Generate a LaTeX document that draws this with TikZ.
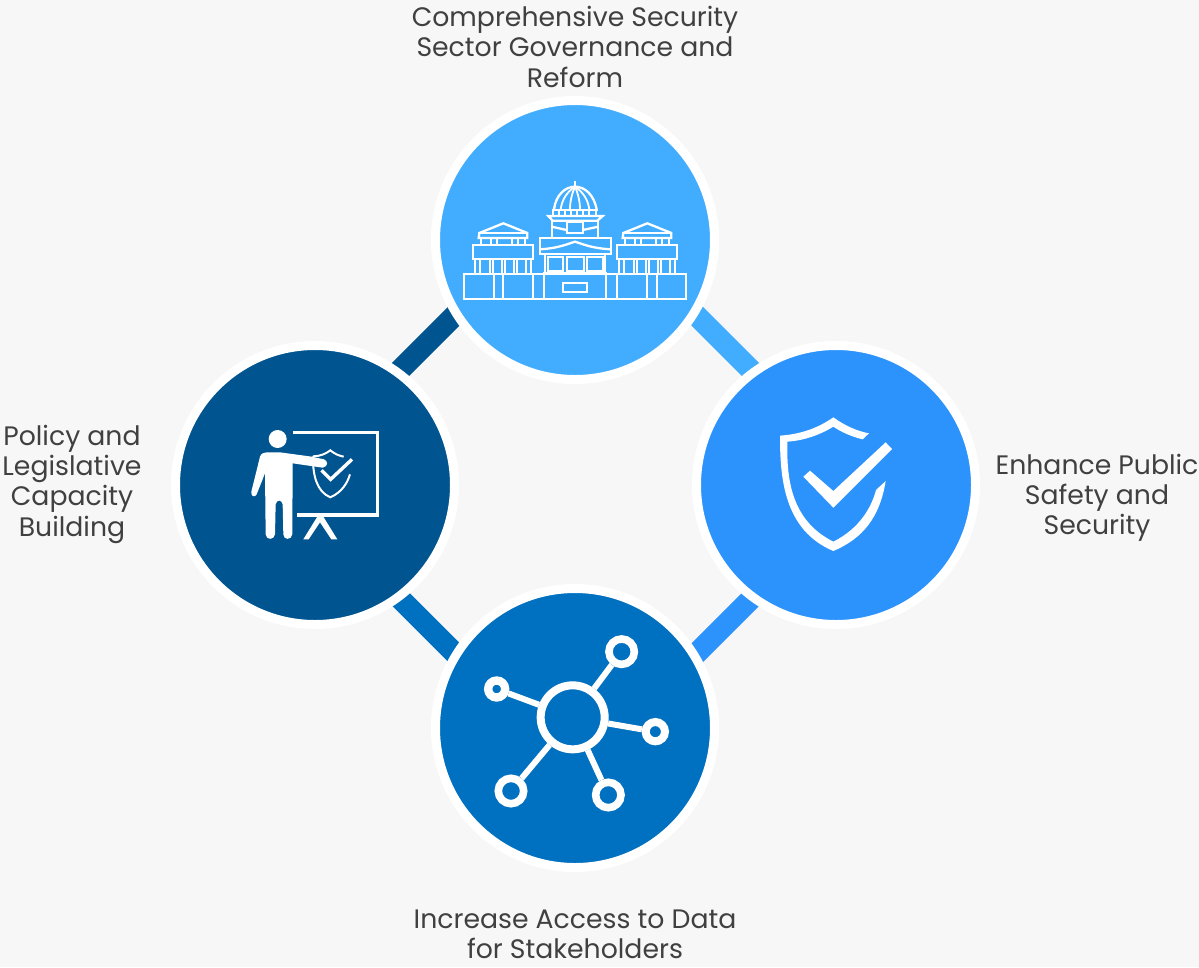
\documentclass[tikz,border=0pt]{standalone}
\usepackage{fontspec}
\setmainfont{Poppins}
\usetikzlibrary{calc,backgrounds}
\definecolor{bgc}{HTML}{F7F7F7}
\definecolor{ctop}{HTML}{42ADFF}
\definecolor{cright}{HTML}{2B93FB}
\definecolor{cbottom}{HTML}{0070C0}
\definecolor{cleft}{HTML}{00548F}
\definecolor{txt}{HTML}{404040}
\pgfdeclarelayer{bars}
\pgfsetlayers{bars,main}
\tikzset{
  disc/.style={circle,draw=white,line width=9pt,inner sep=0pt,minimum size=279pt,fill=#1},
  label/.style={text=txt,align=center,font=\fontsize{26.7}{30.3}\selectfont,inner sep=0pt},
  barline/.style={line width=21.5pt},
  ln/.style={draw=white,line width=2.3pt,line join=miter,fill=none},
  tn/.style={draw=white,line width=1.8pt,fill=none},
  hubn/.style={circle,draw=white,fill=cbottom,inner sep=0pt},
  spoke/.style={draw=white,line width=6pt}
}
\begin{document}
\begin{tikzpicture}[x=1pt,y=-1pt]
\useasboundingbox (0,0) rectangle (1199,967);
\begin{pgfonlayer}{bars}
\fill[bgc] (0,0) rectangle (1199,967);
\end{pgfonlayer}
\node[disc=ctop] (top) at (575,240) {};
\node[disc=cright] (right) at (836,485) {};
\node[disc=cbottom] (bottom) at (575,728) {};
\node[disc=cleft] (left) at (315,485) {};
\coordinate (tl1) at (380,390); \coordinate (tl2) at (480,290);
\coordinate (tr1) at (671,290); \coordinate (tr2) at (771,390);
\coordinate (br1) at (774,576); \coordinate (br2) at (674,676);
\coordinate (bl1) at (380.5,579); \coordinate (bl2) at (480.5,679);
\begin{pgfonlayer}{bars}
\draw[barline,cleft] (tl1) -- (tl2);
\draw[barline,ctop] (tr1) -- (tr2);
\draw[barline,cright] (br1) -- (br2);
\draw[barline,cbottom] (bl1) -- (bl2);
\end{pgfonlayer}
\node[label] (ltop) at (575,46.8) {Comprehensive Security\\Sector Governance and\\Reform};
\node[label] (lright) at (1097,497.8) {Enhance Public\\Safety and\\Security};
\node[label] (lbottom) at (575,934) {Increase Access to Data\\for Stakeholders};
\node[label] (lleft) at (72,484) {Policy and\\Legislative\\Capacity\\Building};
% building icon
\begin{scope}[shift={(450,170)},x=0.3333pt,y=-0.3333pt]
\draw[ln] (42,312) rectangle (708,386);
\foreach \x in {132,160,250,282,468,500,592,620} \draw[ln] (\x,312) -- (\x,386);
\draw[ln] (340,338) rectangle (410,365);
\foreach \d in {0,432}{
\begin{scope}[xshift=\d*0.3333pt]
\draw[ln] (70,226) rectangle (248,268);
\foreach \x in {74,90,120,130,155,165,192,200,228,243} \draw[tn] (\x,268) -- (\x,312);
\draw[ln] (92,205) -- (92,226) (225,205) -- (225,226);
\foreach \x in {122,140,185,203} \draw[tn] (\x,205) -- (\x,226);
\draw[ln] (86,204) -- (232,204) -- (232,189) -- (160,160) -- (88,189) -- cycle;
\draw[ln] (88,189) -- (232,189);
\end{scope}}
\draw[ln] (270,205) rectangle (482,252);
\draw[ln] (270,238) .. controls (320,235) and (345,225) .. (375,215) .. controls (405,225) and (430,235) .. (482,238);
\draw[ln] (285,252) -- (285,310) (465,252) -- (465,310) (280,310) -- (470,310);
\draw[ln] (293,260) rectangle (340,304);
\draw[ln] (350,260) rectangle (402,304);
\draw[ln] (410,260) rectangle (460,304);
\draw[ln] (305,205) -- (305,152) (445,205) -- (445,152);
\draw[ln] (295,138) -- (458,138) -- (442,152) -- (308,152) -- cycle;
\draw[ln] (305,170) -- (350,180) (398,180) -- (445,170);
\draw[ln] (351,157) rectangle (398,188);
\draw[ln] (305,120) -- (445,120);
\foreach \x in {310,328,346,364,382,400,418,438} \draw[tn] (\x,120) -- (\x,137);
\draw[ln] (312,118) .. controls (318,75) and (345,50) .. (375,50) .. controls (405,50) and (432,75) .. (440,118);
\draw[tn] (332,118) .. controls (336,90) and (350,66) .. (375,50) .. controls (400,66) and (414,90) .. (418,118);
\draw[tn] (360,118) .. controls (360,95) and (366,70) .. (375,50) .. controls (384,70) and (390,95) .. (390,118);
\draw[ln] (375,32) -- (375,50);
\end{scope}
% presenter icon
\begin{scope}[shift={(240,415)},x=0.3333pt,y=-0.3333pt]
\fill[white] (113,72) circle[radius=27*0.3333pt];
\fill[white] (60,125) .. controls (63,115) and (72,112) .. (85,112) -- (120,112) -- (215,125) -- (252,133) .. controls (265,138) and (265,155) .. (248,158) -- (158,145) -- (157,358) .. controls (155,376) and (130,376) .. (130,358) -- (128,268) .. controls (125,253) and (110,253) .. (107,268) -- (105,358) .. controls (103,376) and (78,376) .. (77,358) -- (75,175) -- (50,238) .. controls (45,248) and (32,245) .. (34,230) -- cycle;
\draw[white,line width=3.6pt] (159,53) -- (412,53) -- (412,300) -- (171,300);
\fill[white] (232,305) -- (190,373) -- (206,373) -- (240,322) -- (274,373) -- (292,373) -- (250,305) -- cycle;
\draw[white,line width=2pt] (219,124) .. controls (240,124) and (258,116) .. (271,106) .. controls (283,116) and (296,122) .. (311,125);
\draw[white,line width=2pt] (219,124) .. controls (218,180) and (230,230) .. (271,247) .. controls (305,232) and (322,205) .. (330,178);
\draw[white,line width=3.4pt] (245,166) -- (272,193) -- (336,133);
\end{scope}
% shield icon
\begin{scope}[shift={(770,410)},x=0.3333pt,y=-0.3333pt]
\fill[white] (30,77) .. controls (100,72) and (150,50) .. (190,22) .. controls (225,47) and (260,63) .. (297,70) -- (278,88) .. controls (245,80) and (215,67) .. (190,50) .. controls (150,75) and (100,92) .. (52,95) .. controls (50,200) and (60,330) .. (190,395) .. controls (270,355) and (305,290) .. (318,240) -- (347,213) .. controls (330,320) and (280,385) .. (190,423) .. controls (40,360) and (30,200) .. (30,77) -- cycle;
\fill[white] (100,200) -- (120,182) -- (190,243) -- (347,97) -- (366,117) -- (190,293) -- cycle;
\end{scope}
% network icon
\begin{scope}[shift={(475,625)},x=0.3333pt,y=-0.3333pt]
\node[hubn,line width=8pt,minimum size=64pt] (hub) at (293,277) {};
\node[hubn,line width=7.6pt,minimum size=25.4pt] (s1) at (440,80) {};
\node[hubn,line width=8.3pt,minimum size=17pt] (s2) at (65,192) {};
\node[hubn,line width=8pt,minimum size=19.3pt] (s3) at (541,320) {};
\node[hubn,line width=7.6pt,minimum size=25.4pt] (s4) at (108,498) {};
\node[hubn,line width=7.6pt,minimum size=25.4pt] (s5) at (400,510) {};
\foreach \s in {s1,s2,s3,s4,s5} \draw[spoke] (hub) -- (\s);
\end{scope}
\end{tikzpicture}
\end{document}
